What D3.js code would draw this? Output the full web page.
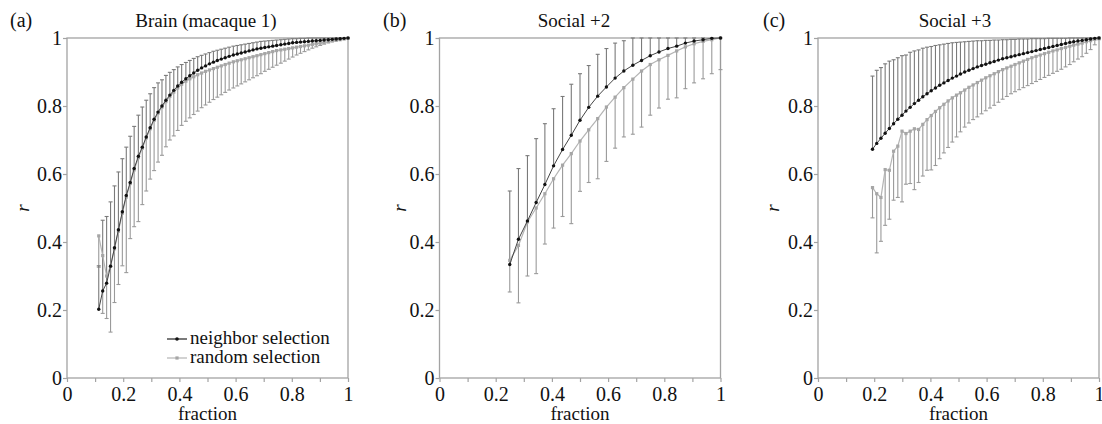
<!DOCTYPE html>
<html>
<head>
<meta charset="utf-8">
<script src="https://cdn.jsdelivr.net/npm/d3@7"></script>
<style>
body { margin: 0; background: #fff; }
svg { display: block; }
svg text { font-family: 'Liberation Serif', 'Tinos', 'DejaVu Serif', serif; }
</style>
</head>
<body>
<svg width="1102" height="424"></svg>
<script>
// ---- data ----
// (a) Brain (macaque 1)
var aX = [.113,.127,.141,.155,.169,.183,.197,.211,.225,.239,
          .254,.268,.282,.296,.310,.324,.338,.352,.366,.380,
          .394,.408,.423,.437,.451,.465,.479,.493,.507,.521,
          .535,.549,.563,.577,.592,.606,.620,.634,.648,.662,
          .676,.690,.704,.718,.732,.746,.761,.775,.789,.803,
          .817,.831,.845,.859,.873,.887,.901,.915,.930,.944,
          .958,.972,.986,1];
var aNeighbor = [.202,.256,.279,.329,.383,.436,.489,.537,.575,.616,
                 .652,.679,.709,.736,.761,.782,.800,.817,.832,.846,
                 .859,.870,.880,.889,.897,.905,.912,.918,.924,.929,
                 .934,.938,.942,.946,.950,.953,.956,.959,.962,.965,
                 .968,.970,.972,.974,.976,.978,.980,.982,.984,.986,
                 .987,.988,.989,.990,.991,.992,.993,.994,.995,.996,
                 .997,.998,.999,1];
var aNeighborUp = [.330,.464,.475,.518,.565,.606,.645,.679,.711,.740,
                   .773,.797,.817,.836,.854,.868,.877,.890,.899,.907,
                   .915,.922,.928,.934,.940,.945,.949,.953,.957,.961,
                   .964,.967,.970,.973,.976,.978,.980,.982,.984,.986,
                   .988,.990,.991,.992,.993,.994,.995,.996,.997,.998,
                   .998,.999,.999,1,1,1,1,1,1,1,
                   1,1,1,1];
var aRandom = [.418,.360,.300,.329,.380,.432,.485,.532,.572,.612,
               .648,.676,.706,.733,.758,.779,.797,.813,.828,.841,
               .853,.864,.873,.880,.886,.892,.897,.902,.906,.910,
               .914,.918,.922,.926,.930,.933,.936,.939,.942,.945,
               .948,.951,.954,.957,.960,.963,.965,.967,.969,.971,
               .973,.975,.977,.979,.981,.983,.985,.987,.989,.991,
               .993,.995,.997,.999];
var aRandomLow = [.326,.190,.175,.135,.222,.275,.330,.310,.410,.445,
                  .460,.510,.550,.585,.610,.635,.655,.680,.700,.712,
                  .728,.743,.755,.765,.775,.785,.795,.803,.811,.819,
                  .826,.833,.840,.847,.853,.859,.865,.871,.877,.883,
                  .889,.895,.902,.908,.914,.920,.926,.932,.938,.944,
                  .950,.955,.960,.965,.970,.974,.978,.982,.986,.990,
                  .993,.996,.998,1];

// (b) Social +2
var bX = [.25,.281,.313,.344,.375,.406,.438,.469,.5,.531,
          .563,.594,.625,.656,.688,.719,.75,.781,.813,.844,
          .875,.906,.938,.969,1];
var bNeighbor = [.334,.408,.462,.516,.569,.624,.672,.714,.758,.796,
                 .829,.856,.882,.903,.920,.934,.948,.959,.969,.976,
                 .985,.991,.995,.999,1];
var bNeighborUp = [.550,.616,.654,.704,.748,.792,.828,.864,.895,.919,
                   .952,.969,.985,.992,1,1,1,1,1,1,
                   1,1,1,1,1];
var bRandom = [.346,.390,.459,.500,.542,.586,.626,.660,.697,.730,
               .763,.797,.826,.854,.879,.903,.922,.936,.949,.962,
               .974,.983,.990,.995,1];
var bRandomLow = [.253,.221,.300,.307,.394,.441,.475,.454,.549,.575,
                  .586,.637,.676,.709,.717,.738,.773,.794,.820,.824,
                  .851,.868,.880,.895,.907];

// (c) Social +3
var cX = [.194,.209,.224,.239,.254,.269,.284,.299,.313,.328,
          .343,.358,.373,.388,.403,.418,.433,.448,.463,.478,
          .493,.507,.522,.537,.552,.567,.582,.597,.612,.627,
          .642,.657,.672,.687,.701,.716,.731,.746,.761,.776,
          .791,.806,.821,.836,.851,.866,.881,.896,.910,.925,
          .940,.955,.970,.985,1];
var cNeighbor = [.673,.690,.705,.720,.734,.748,.761,.773,.785,.796,
                 .807,.817,.827,.836,.845,.853,.861,.868,.875,.882,
                 .888,.894,.900,.905,.910,.915,.919,.923,.927,.931,
                 .935,.939,.942,.945,.948,.951,.954,.957,.960,.963,
                 .966,.969,.972,.975,.978,.981,.984,.987,.989,.991,
                 .993,.995,.997,.999,1];
var cNeighborUp = [.888,.905,.913,.924,.932,.936,.942,.948,.950,.958,
                   .962,.965,.970,.973,.975,.978,.980,.982,.984,.986,
                   .987,.988,.989,.990,.991,.992,.992,.993,.993,.994,
                   .994,.995,.995,.996,.996,.997,.997,.997,.998,.998,
                   .998,.998,.999,.999,.999,.999,.999,1,1,1,
                   1,1,1,1,1];
var cRandom = [.560,.542,.531,.613,.611,.667,.682,.726,.719,.726,
               .733,.731,.746,.760,.772,.784,.795,.805,.815,.824,
               .832,.839,.847,.855,.862,.869,.876,.883,.889,.895,
               .901,.907,.912,.917,.922,.927,.932,.937,.942,.946,
               .950,.954,.958,.962,.965,.969,.972,.976,.979,.982,
               .985,.989,.992,.996,1];
var cRandomLow = [.471,.368,.402,.449,.467,.523,.531,.518,.570,.572,
                  .554,.575,.594,.611,.612,.625,.645,.662,.678,.694,
                  .709,.724,.738,.750,.760,.768,.777,.786,.794,.802,
                  .811,.820,.828,.836,.842,.848,.854,.860,.866,.872,
                  .878,.884,.890,.896,.902,.908,.915,.922,.930,.938,
                  .945,.955,.966,.980,.995];

var xTicks = [0,.1,.2,.3,.4,.5,.6,.7,.8,.9,1];
var xTickLabels = ["0","","0.2","","0.4","","0.6","","0.8","","1"];
var yTicks = [0,.2,.4,.6,.8,1];
var yTickLabels = ["0","0.2","0.4","0.6","0.8","1"];
var legendLabels = ["neighbor selection", "random selection"];

// ---- layout ----
var FONT = "'Liberation Serif', 'Tinos', 'DejaVu Serif', serif";
var svg = d3.select("svg").attr("font-family", FONT);
var plotW = 281, plotH = 340, plotTop = 38;
var frameColor = "#a3a3a3";

var panels = [
    {left: 67, tag: "(a)", tagX: 10, title: "Brain (macaque 1)", titleX: 206, rX: 23,
     x: aX, nb: aNeighbor, nbUp: aNeighborUp, rd: aRandom, rdLow: aRandomLow, legend: true},
    {left: 439.5, tag: "(b)", tagX: 383, title: "Social +2", titleX: 574, rX: 400,
     x: bX, nb: bNeighbor, nbUp: bNeighborUp, rd: bRandom, rdLow: bRandomLow, legend: false},
    {left: 818, tag: "(c)", tagX: 763, title: "Social +3", titleX: 955, rX: 773,
     x: cX, nb: cNeighbor, nbUp: cNeighborUp, rd: cRandom, rdLow: cRandomLow, legend: false}
];

panels.forEach(function (p) {
    var xScale = d3.scaleLinear().domain([0, 1]).range([0, plotW]);
    var yScale = d3.scaleLinear().domain([0, 1]).range([plotH, 0]);

    // panel tag and title
    svg.append("text").attr("x", p.tagX).attr("y", 27)
        .attr("font-size", 20).attr("fill", "#111").text(p.tag);
    svg.append("text").attr("x", p.titleX).attr("y", 27)
        .attr("text-anchor", "middle").attr("font-size", 19).attr("fill", "#111").text(p.title);

    // y label (italic r, rotated)
    svg.append("text")
        .attr("transform", "translate(" + p.rX + ",208) rotate(-90)")
        .attr("text-anchor", "middle").attr("dy", "0.3em")
        .attr("font-size", 19).attr("font-style", "italic").attr("fill", "#111").text("r");

    var g = svg.append("g").attr("transform", "translate(" + p.left + "," + plotTop + ")");

    // axes
    var xAxis = d3.axisBottom(xScale).tickValues(xTicks).tickSize(4).tickPadding(5)
        .tickFormat(function (d, i) { return xTickLabels[i]; });
    var yAxis = d3.axisLeft(yScale).tickValues(yTicks).tickSize(4).tickPadding(1)
        .tickFormat(function (d, i) { return yTickLabels[i]; });

    var gx = g.append("g").attr("transform", "translate(0," + plotH + ")").call(xAxis);
    var gy = g.append("g").call(yAxis);
    [gx, gy].forEach(function (ax) {
        ax.attr("font-family", FONT).attr("font-size", 20);
        ax.select(".domain").remove();
        ax.selectAll(".tick line").attr("stroke", frameColor).attr("stroke-width", 1.2);
        ax.selectAll(".tick text").attr("fill", "#111");
    });

    // frame
    g.append("rect").attr("x", 0).attr("y", 0).attr("width", plotW).attr("height", plotH)
        .attr("fill", "none").attr("stroke", frameColor).attr("stroke-width", 1.3);

    var capW = 2;
    var pts = p.x.map(function (x, i) {
        return {x: x, nb: p.nb[i], up: p.nbUp[i], rd: p.rd[i], lo: p.rdLow[i]};
    });

    // error bars: random selection (downward)
    var rdBars = g.append("g").attr("stroke", "#9a9a9a").attr("stroke-width", 1.1);
    pts.forEach(function (d) {
        var cx = xScale(d.x);
        rdBars.append("line").attr("x1", cx).attr("x2", cx).attr("y1", yScale(d.rd)).attr("y2", yScale(d.lo));
        rdBars.append("line").attr("x1", cx - capW).attr("x2", cx + capW).attr("y1", yScale(d.lo)).attr("y2", yScale(d.lo));
    });
    // error bars: neighbor selection (upward)
    var nbBars = g.append("g").attr("stroke", "#7a7a7a").attr("stroke-width", 1.1);
    pts.forEach(function (d) {
        var cx = xScale(d.x);
        nbBars.append("line").attr("x1", cx).attr("x2", cx).attr("y1", yScale(d.nb)).attr("y2", yScale(d.up));
        nbBars.append("line").attr("x1", cx - capW).attr("x2", cx + capW).attr("y1", yScale(d.up)).attr("y2", yScale(d.up));
    });

    // random selection line + square markers
    var rdLine = d3.line().x(function (d) { return xScale(d.x); }).y(function (d) { return yScale(d.rd); });
    g.append("path").datum(pts).attr("d", rdLine).attr("fill", "none")
        .attr("stroke", "#b4b4b4").attr("stroke-width", 1.2);
    g.selectAll(".rdpt").data(pts).enter().append("rect")
        .attr("x", function (d) { return xScale(d.x) - 1.6; })
        .attr("y", function (d) { return yScale(d.rd) - 1.6; })
        .attr("width", 3.2).attr("height", 3.2).attr("fill", "#a6a6a6");

    // neighbor selection line + dots
    var nbLine = d3.line().x(function (d) { return xScale(d.x); }).y(function (d) { return yScale(d.nb); });
    g.append("path").datum(pts).attr("d", nbLine).attr("fill", "none")
        .attr("stroke", "#444").attr("stroke-width", 1);
    g.selectAll(".nbpt").data(pts).enter().append("circle")
        .attr("cx", function (d) { return xScale(d.x); })
        .attr("cy", function (d) { return yScale(d.nb); })
        .attr("r", 1.7).attr("fill", "#111");

    // x label
    svg.append("text").attr("x", p.left + plotW / 2).attr("y", 420)
        .attr("text-anchor", "middle").attr("font-size", 19).attr("fill", "#111").text("fraction");

    if (p.legend) {
        var lg = svg.append("g");
        // neighbor
        lg.append("line").attr("x1", 167).attr("x2", 187).attr("y1", 339).attr("y2", 339)
            .attr("stroke", "#222").attr("stroke-width", 1.2);
        lg.append("circle").attr("cx", 177).attr("cy", 339).attr("r", 1.8).attr("fill", "#111");
        lg.append("text").attr("x", 190).attr("y", 344).attr("font-size", 19).attr("fill", "#111").text(legendLabels[0]);
        // random
        lg.append("line").attr("x1", 167).attr("x2", 187).attr("y1", 358).attr("y2", 358)
            .attr("stroke", "#b4b4b4").attr("stroke-width", 1.2);
        lg.append("rect").attr("x", 175.4).attr("y", 356.4).attr("width", 3.2).attr("height", 3.2).attr("fill", "#a6a6a6");
        lg.append("text").attr("x", 190).attr("y", 363).attr("font-size", 19).attr("fill", "#111").text(legendLabels[1]);
    }
});
</script>
</body>
</html>
